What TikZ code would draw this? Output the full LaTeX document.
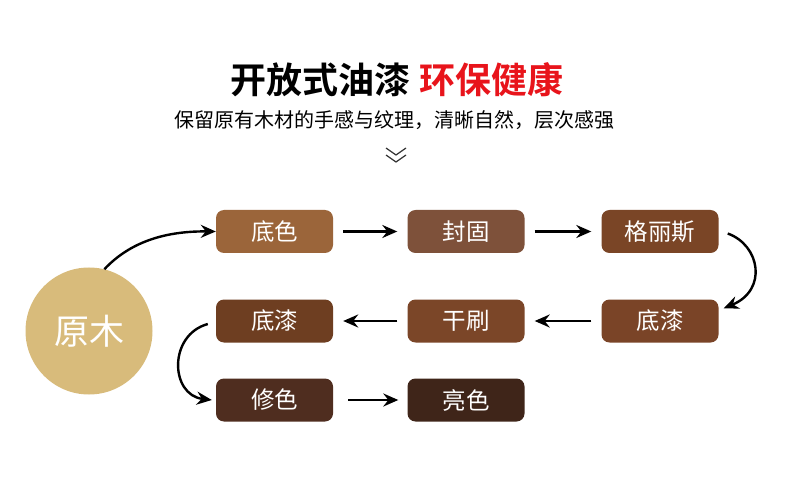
\documentclass[tikz,border=0pt]{standalone}
\usepackage{fontspec}
\setmainfont{Noto Sans CJK SC}[BoldFont={Noto Sans CJK SC Bold}]
\usetikzlibrary{arrows.meta}
\definecolor{cA}{HTML}{9B653A}
\definecolor{cB}{HTML}{7E513A}
\definecolor{cC}{HTML}{7A4526}
\definecolor{cD}{HTML}{7A4427}
\definecolor{cE}{HTML}{7B4628}
\definecolor{cF}{HTML}{6E3E21}
\definecolor{cG}{HTML}{4F2D1F}
\definecolor{cH}{HTML}{3F2519}
\definecolor{wood}{HTML}{D8BB7B}
\definecolor{titlered}{HTML}{E8141B}
\tikzset{
  stepbox/.style={rounded corners=8pt, minimum width=117pt, minimum height=43pt, inner sep=0pt, text=white, font=\fontsize{23.5pt}{26pt}\selectfont},
  flow/.style={line width=2.4pt, -{Stealth[length=15pt,width=13pt,inset=5pt]}},
}
\begin{document}
\begin{tikzpicture}[x=1pt,y=-1pt]
\useasboundingbox (0,0) rectangle (790,489);
\fill[white] (0,0) rectangle (790,489);
\node (title) at (397,80) {\fontsize{36pt}{40pt}\selectfont\bfseries 开放式油漆 \textcolor{titlered}{环保健康}};
\node (sub) at (394,120) {\fontsize{20pt}{23pt}\selectfont 保留原有木材的手感与纹理，清晰自然，层次感强};
\draw[line width=1.2pt, black!80] (386,148) -- (396,155) -- (406,148);
\draw[line width=1.2pt, black!80] (386,155) -- (396,162) -- (406,155);

\node[circle, fill=wood, minimum size=127pt, inner sep=0pt, text=white, font=\fontsize{35pt}{38pt}\selectfont] (wood) at (89,331) {原木};

\node[stepbox, fill=cA] (s1) at (274.5,231.5) {底色};
\node[stepbox, fill=cB] (s2) at (466,231.5) {封固};
\node[stepbox, fill=cC] (s3) at (660,231.5) {格丽斯};
\node[stepbox, fill=cD] (s4) at (660,321) {底漆};
\node[stepbox, fill=cE] (s5) at (466,321) {干刷};
\node[stepbox, fill=cF] (s6) at (274.5,321) {底漆};
\node[stepbox, fill=cG] (s7) at (274.5,400) {修色};
\node[stepbox, fill=cH] (s8) at (466,400) {亮色};

\draw[flow] (wood.76) .. controls (130,242) and (165,231) .. (s1.west);
\draw[flow, shorten <=10pt, shorten >=10pt] (s1) -- (s2);
\draw[flow, shorten <=10pt, shorten >=10pt] (s2) -- (s3);
\draw[flow] ([xshift=9pt,yshift=-2pt]s3.east) .. controls (760,245) and (768,290) .. ([xshift=5pt,yshift=-9pt]s4.north east);
\draw[flow, shorten <=10pt, shorten >=10pt] (s4) -- (s5);
\draw[flow, shorten <=10pt, shorten >=10pt] (s5) -- (s6);
\draw[flow] ([xshift=-8pt,yshift=-3pt]s6.west) .. controls (168,335) and (170,395) .. ([xshift=-4pt]s7.west);
\draw[flow, shorten <=15pt, shorten >=9pt] (s7) -- (s8);
\end{tikzpicture}
\end{document}
